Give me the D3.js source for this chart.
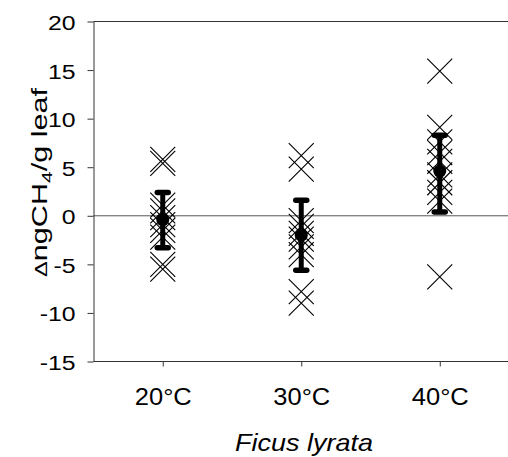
<!DOCTYPE html>
<html>
<head>
<meta charset="utf-8">
<script src="https://cdn.jsdelivr.net/npm/d3@7"></script>
<style>
    body { margin: 0; background: #fff; }
    svg { display: block; }
    text { font-family: "Liberation Sans", Arial, sans-serif; fill: #000; }
</style>
</head>
<body>
<svg id="chart" width="508" height="457"></svg>
<script>

// values
let groups = ["20°C", "30°C", "40°C"];
let values20 = [5.8, 5.4, 1.1, 0.5, -0.2, -0.9, -1.5, -2.2, -5.0, -5.5];
let values30 = [6.2, 4.8, -0.5, -1.1, -1.8, -2.4, -3.2, -4.0, -7.8, -9.0];
let values40 = [14.9, 9.1, 7.6, 6.5, 5.6, 4.2, 3.4, 2.4, 1.5, -6.3];
let means = [-0.4, -2.0, 4.6];
let errTop = [2.4, 1.6, 8.3];
let errBottom = [-3.3, -5.6, 0.4];
let yTicks = [-15, -10, -5, 0, 5, 10, 15, 20];

let svg = d3.select("#chart");
let axisColor = "#333";

let xScale = d3.scaleLinear().domain([0.5, 3.5]).range([93.5, 509]);
let yScale = d3.scaleLinear().domain([-15, 20]).range([361.5, 21.5]);

// zero line
svg.append("line")
    .attr("x1", xScale(0.5)).attr("x2", 508)
    .attr("y1", yScale(0)).attr("y2", yScale(0))
    .style("stroke", "#555").style("stroke-width", 1);

// top frame line
svg.append("line")
    .attr("x1", xScale(0.5)).attr("x2", 508)
    .attr("y1", yScale(20)).attr("y2", yScale(20))
    .style("stroke", axisColor).style("stroke-width", 1);

// y axis (plain hyphen for negatives)
let yAxisG = svg.append("g")
    .attr("transform", "translate(" + xScale(0.5) + ",0)")
    .call(d3.axisLeft(yScale).tickValues(yTicks).tickSize(6).tickSizeOuter(0)
        .tickFormat(function(d){ return String(d); }));
yAxisG.select(".domain").style("stroke", axisColor);
yAxisG.selectAll(".tick line").style("stroke", axisColor);
yAxisG.selectAll(".tick text")
    .attr("x", 0).attr("dy", 0).attr("y", 8)
    .attr("transform", "translate(-18,0) scale(1.18,1)")
    .style("font-size", "21px").style("fill", "#000");

// x axis
let xAxisG = svg.append("g")
    .attr("transform", "translate(0," + yScale(-15) + ")")
    .call(d3.axisBottom(xScale).tickValues([1, 2, 3]).tickSize(5).tickSizeOuter(0)
        .tickFormat(function(d){ return groups[d - 1]; }));
xAxisG.select(".domain").attr("d", "M" + xScale(0.5) + ",0H508").style("stroke", axisColor);
xAxisG.selectAll(".tick line").style("stroke", axisColor);
xAxisG.selectAll(".tick text")
    .attr("y", 0).attr("dy", 0)
    .style("font-size", "23px").style("fill", "#000")
    .each(function(){
        let k = 57 / this.getComputedTextLength();
        d3.select(this).attr("transform", "translate(0,43) scale(" + k + ",1)");
    });

// the X markers
let allValues = [values20, values30, values40];
let cross = "M-12.5,-12.5L12.5,12.5M-12.5,12.5L12.5,-12.5";

allValues.forEach(function(vals, i){
    svg.append("g").selectAll(".marker")
        .data(vals)
        .enter().append("path")
        .attr("class", "marker")
        .attr("d", cross)
        .attr("transform", function(d){
            return "translate(" + xScale(i + 1) + "," + yScale(d) + ")";
        })
        .style("fill", "none")
        .style("stroke", "#000")
        .style("stroke-width", 1.1);
});

// error bars + means
let bars = svg.append("g");
groups.forEach(function(g, i){
    let cx = xScale(i + 1);
    bars.append("line")
        .attr("x1", cx).attr("x2", cx)
        .attr("y1", yScale(errTop[i])).attr("y2", yScale(errBottom[i]))
        .style("stroke", "#000").style("stroke-width", 5);
    [errTop[i], errBottom[i]].forEach(function(v){
        bars.append("line")
            .attr("x1", cx - 5.5).attr("x2", cx + 5.5)
            .attr("y1", yScale(v)).attr("y2", yScale(v))
            .style("stroke", "#000").style("stroke-width", 5.5)
            .style("stroke-linecap", "round");
    });
    bars.append("circle")
        .attr("cx", cx).attr("cy", yScale(means[i]))
        .attr("r", 6.5)
        .style("fill", "#000");
});

// x title
let title = svg.append("text")
    .attr("text-anchor", "middle")
    .style("font-size", "23px")
    .style("font-style", "italic")
    .text("Ficus lyrata");
let tk = 138 / title.node().getComputedTextLength();
title.attr("transform", "translate(304,451) scale(" + tk + ",1)");

// y title
let ylab = svg.append("text")
    .attr("text-anchor", "middle")
    .style("font-size", "22px");
ylab.append("tspan").style("font-size", "17px").text("\u0394");
ylab.append("tspan").text("ngCH");
ylab.append("tspan").style("font-size", "15px").attr("dy", 5).text("4");
ylab.append("tspan").attr("dy", -5).text("/g leaf");
let yk = 189 / ylab.node().getComputedTextLength();
ylab.attr("transform", "translate(47,182.5) rotate(-90) scale(" + yk + ",1)");

</script>
</body>
</html>
